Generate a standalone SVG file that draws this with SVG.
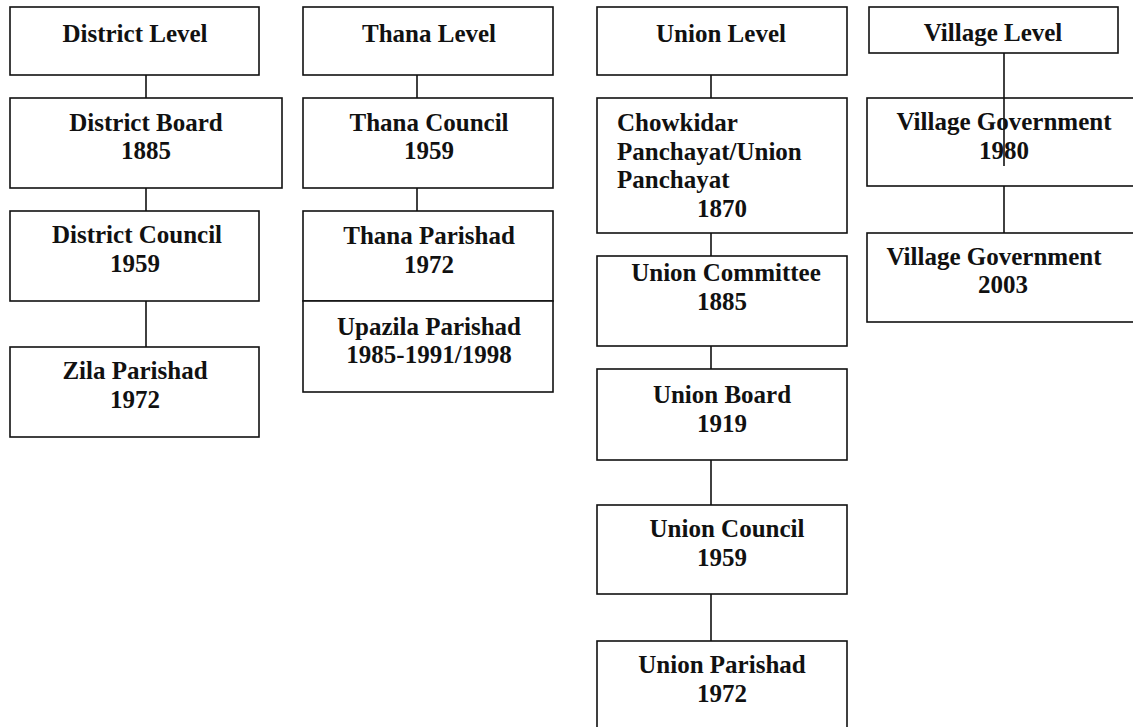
<svg xmlns="http://www.w3.org/2000/svg" width="1133" height="727" viewBox="0 0 1133 727">
<style>
rect{fill:#fff;stroke:#111;stroke-width:1.6}
line{stroke:#111;stroke-width:1.6}
text{font-family:"Liberation Serif","Times New Roman",serif;font-weight:bold;font-size:25px;fill:#111;text-anchor:middle}
.l{text-anchor:start}
</style>
<rect x="0" y="0" width="1133" height="727" style="stroke:none"/>
<g id="connectors">
<line x1="146" y1="75" x2="146" y2="98"/>
<line x1="146" y1="188" x2="146" y2="211"/>
<line x1="146" y1="301" x2="146" y2="347"/>
<line x1="417" y1="75" x2="417" y2="98"/>
<line x1="417" y1="188" x2="417" y2="211"/>
<line x1="711" y1="75" x2="711" y2="98"/>
<line x1="711" y1="233" x2="711" y2="256"/>
<line x1="711" y1="346" x2="711" y2="369"/>
<line x1="711" y1="460" x2="711" y2="505"/>
<line x1="711" y1="594" x2="711" y2="641"/>
<line x1="1004" y1="186" x2="1004" y2="233"/>
</g>
<g id="district-level"><rect x="10" y="7" width="249" height="68"/><text x="135" y="42">District Level</text></g>
<g id="district-board"><rect x="10" y="98" width="272" height="90"/><text x="146" y="131">District Board</text><text x="146" y="159">1885</text></g>
<g id="district-council"><rect x="10" y="211" width="249" height="90"/><text x="137" y="243">District Council</text><text x="135" y="272">1959</text></g>
<g id="zila-parishad"><rect x="10" y="347" width="249" height="90"/><text x="135" y="379">Zila Parishad</text><text x="135" y="408">1972</text></g>
<g id="thana-level"><rect x="303" y="7" width="250" height="68"/><text x="429" y="42">Thana Level</text></g>
<g id="thana-council"><rect x="303" y="98" width="250" height="90"/><text x="429" y="131">Thana Council</text><text x="429" y="159">1959</text></g>
<g id="thana-parishad"><rect x="303" y="211" width="250" height="90"/><text x="429" y="244">Thana Parishad</text><text x="429" y="273">1972</text></g>
<g id="upazila-parishad"><rect x="303" y="301" width="250" height="91"/><text x="429" y="335">Upazila Parishad</text><text x="429" y="363">1985-1991/1998</text></g>
<g id="union-level"><rect x="597" y="7" width="250" height="68"/><text x="721" y="42">Union Level</text></g>
<g id="chowkidar"><rect x="597" y="98" width="250" height="135"/><text class="l" x="617" y="131">Chowkidar</text><text class="l" x="617" y="160">Panchayat/Union</text><text class="l" x="617" y="188">Panchayat</text><text x="722" y="217">1870</text></g>
<g id="union-committee"><rect x="597" y="256" width="250" height="90"/><text x="726" y="281">Union Committee</text><text x="722" y="310">1885</text></g>
<g id="union-board"><rect x="597" y="369" width="250" height="91"/><text x="722" y="403">Union Board</text><text x="722" y="432">1919</text></g>
<g id="union-council"><rect x="597" y="505" width="250" height="89"/><text x="727" y="537">Union Council</text><text x="722" y="566">1959</text></g>
<g id="union-parishad"><rect x="597" y="641" width="250" height="95"/><text x="722" y="673">Union Parishad</text><text x="722" y="702">1972</text></g>
<g id="village-level"><rect x="869" y="7" width="249" height="46"/><text x="993" y="41">Village Level</text></g>
<g id="village-gov-1980"><rect x="867" y="98" width="280" height="88"/><text x="1004" y="130">Village Government</text><text x="1004" y="159">1980</text></g>
<g id="village-gov-2003"><rect x="867" y="233" width="280" height="89"/><text x="994" y="265">Village Government</text><text x="1003" y="293">2003</text></g>
<g id="village-connector-overlay"><line x1="1004" y1="53" x2="1004" y2="166"/></g>
</svg>
